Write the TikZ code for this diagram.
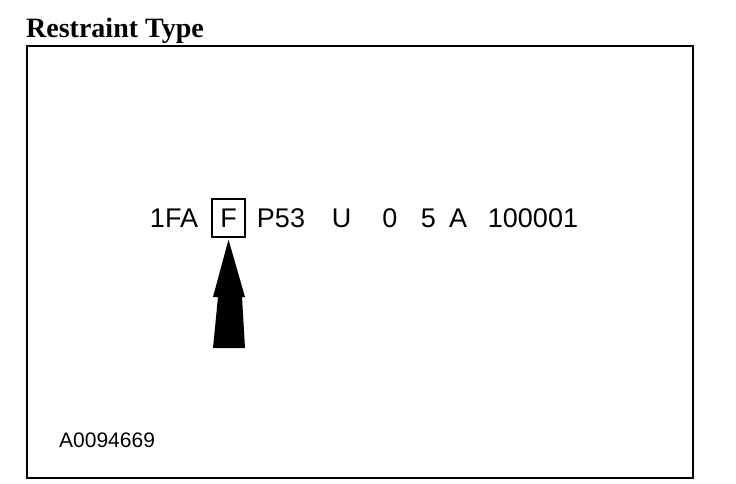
\documentclass[tikz,border=0pt]{standalone}
\usepackage{fontspec}
\setmainfont{Liberation Serif}
\setsansfont{Liberation Sans}
\usepackage{tikz}
\usetikzlibrary{positioning}

\begin{document}
\begin{tikzpicture}[x=1pt,y=-1pt]
		\tikzstyle{frame}=[line width=2.5pt, draw=black]
		\tikzstyle{vin}=[inner sep=0pt, anchor=base, font=\sffamily\fontsize{27}{27}\selectfont]
		\tikzstyle{vin_box}=[draw=black, line width=1.2pt, minimum width=33pt, minimum height=38pt, inner sep=0pt]
		\tikzstyle{title_text}=[inner sep=0pt, anchor=base west, font=\bfseries\fontsize{28}{28}\selectfont]
		\tikzstyle{ref_text}=[inner sep=0pt, anchor=base west, font=\sffamily\fontsize{21}{21}\selectfont]

		\useasboundingbox (0,0) rectangle (736,484);
		\draw [frame] (27,46) rectangle (693,478);

		\node [title_text] (title) at (26,37.5) {Restraint Type};

		\node [vin] (wmi) at (174,227) {1FA};
		\node [vin_box] (box) at (228.5,218) {};
		\node [vin] (restraint) at (box.center |- wmi.base) {F};
		\node [vin] (line) at (281,227) {P53};
		\node [vin] (check) at (341.5,227) {U};
		\node [vin] (year) at (390,227) {0};
		\node [vin] (plant) at (428.5,227) {5};
		\node [vin] (mod) at (458,227) {A};
		\node [vin] (serial) at (533,227) {100001};

		\coordinate [below=2pt of box] (tip);
		\fill [black] (tip) -- (245,297) -- (242,297) -- (245,348) -- (213,348)
			-- (218,297) -- (213,297) -- cycle;

		\node [ref_text] (ref) at (59,447) {A0094669};
	\end{tikzpicture}
\end{document}
